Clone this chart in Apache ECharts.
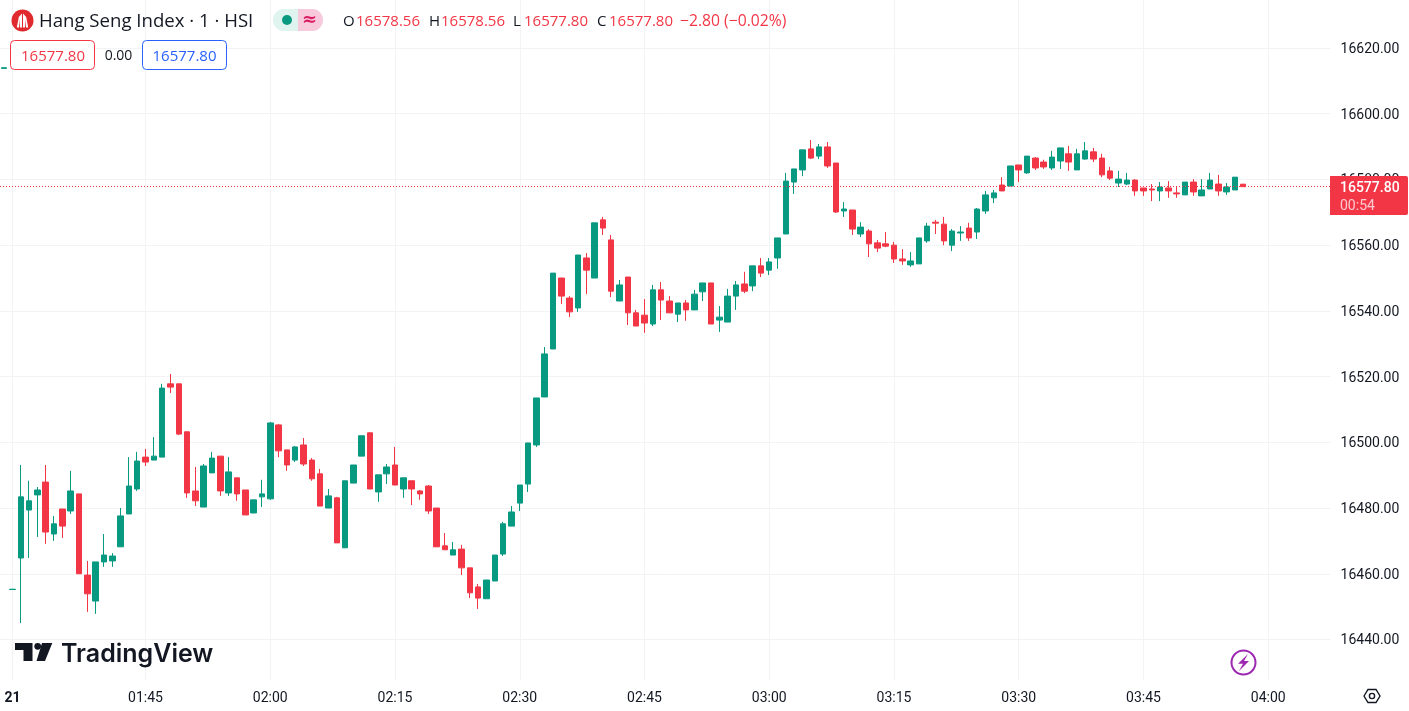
<!DOCTYPE html>
<html>
<head>
<meta charset="utf-8">
<style>html,body{margin:0;padding:0;background:#fff}#c{width:1409px;height:711px}</style>
<script src="https://cdn.jsdelivr.net/npm/echarts@6/dist/echarts.min.js"></script>
</head>
<body>
<div id="c"></div>
<script>
const categories = ["01:28","21",
"01:30","01:31","01:32","01:33","01:34","01:35","01:36","01:37","01:38","01:39","01:40","01:41","01:42","01:43","01:44","01:45","01:46","01:47","01:48","01:49","01:50","01:51","01:52","01:53","01:54","01:55","01:56","01:57","01:58","01:59",
"02:00","02:01","02:02","02:03","02:04","02:05","02:06","02:07","02:08","02:09","02:10","02:11","02:12","02:13","02:14","02:15","02:16","02:17","02:18","02:19","02:20","02:21","02:22","02:23","02:24","02:25","02:26","02:27","02:28","02:29",
"02:30","02:31","02:32","02:33","02:34","02:35","02:36","02:37","02:38","02:39","02:40","02:41","02:42","02:43","02:44","02:45","02:46","02:47","02:48","02:49","02:50","02:51","02:52","02:53","02:54","02:55","02:56","02:57","02:58","02:59",
"03:00","03:01","03:02","03:03","03:04","03:05","03:06","03:07","03:08","03:09","03:10","03:11","03:12","03:13","03:14","03:15","03:16","03:17","03:18","03:19","03:20","03:21","03:22","03:23","03:24","03:25","03:26","03:27","03:28","03:29",
"03:30","03:31","03:32","03:33","03:34","03:35","03:36","03:37","03:38","03:39","03:40","03:41","03:42","03:43","03:44","03:45","03:46","03:47","03:48","03:49","03:50","03:51","03:52","03:53","03:54","03:55","03:56","03:57","03:58","03:59",
"04:00","04:01","04:02","04:03","04:04","04:05","04:06","04:07"];
const timeTicks = ["21","01:45","02:00","02:15","02:30","02:45","03:00","03:15","03:30","03:45","04:00"];
const priceTicks = [16440,16460,16480,16500,16520,16540,16560,16580,16600,16620];
const opens = [16613.8,16455.2,16464.8,16479.4,16484.0,16487.9,16472.1,16479.7,16479.1,16484.3,16459.6,16451.7,16463.6,16463.9,16468.2,16478.2,16485.8,16495.5,16494.6,16495.5,16517.8,16517.8,16503.2,16485.2,16480.3,16490.7,16495.8,16484.6,16489.2,16485.5,16478.5,16483.4,16482.8,16505.3,16497.7,16494.6,16499.2,16494.6,16490.4,16480.0,16483.1,16467.9,16487.6,16495.8,16502.9,16484.9,16490.4,16493.1,16485.8,16488.3,16485.2,16486.7,16480.0,16468.5,16465.7,16467.5,16461.8,16456.0,16452.4,16457.8,16466.0,16474.5,16481.5,16487.3,16499.2,16513.8,16528.4,16550.0,16543.9,16540.9,16556.1,16550.0,16567.7,16561.6,16543.0,16550.3,16539.4,16538.7,16536.0,16546.4,16543.0,16539.0,16542.4,16540.3,16545.8,16548.5,16537.2,16536.6,16544.5,16548.2,16547.6,16553.7,16552.4,16556.1,16563.4,16579.2,16582.9,16589.3,16587.1,16589.9,16585.0,16570.4,16570.7,16563.4,16564.3,16560.7,16560.4,16560.0,16555.8,16554.0,16554.3,16561.3,16567.0,16566.4,16560.0,16563.7,16565.2,16564.0,16570.4,16574.4,16578.3,16578.0,16584.4,16582.0,16586.5,16585.3,16583.5,16585.6,16587.8,16582.9,16586.2,16588.4,16586.5,16582.6,16578.9,16578.6,16579.8,16577.4,16577.1,16576.5,16577.4,16575.9,16575.3,16579.2,16575.0,16577.1,16578.6,16576.2,16576.8,16578.56];
const closes = [16614.0,16455.3,16483.4,16482.2,16485.5,16472.7,16475.2,16474.5,16485.2,16460.0,16453.9,16463.6,16465.7,16465.4,16477.6,16486.7,16494.3,16494.0,16495.8,16516.5,16516.8,16502.5,16484.6,16482.2,16492.8,16495.2,16485.2,16491.0,16484.3,16477.9,16482.5,16484.3,16505.9,16497.4,16493.1,16498.6,16493.4,16488.9,16480.6,16483.7,16469.4,16488.3,16493.1,16502.0,16485.8,16490.1,16492.5,16487.0,16489.2,16485.8,16484.3,16479.1,16468.2,16467.3,16467.3,16461.8,16454.2,16452.6,16458.1,16465.7,16475.2,16478.8,16487.0,16499.8,16513.5,16526.9,16551.5,16544.5,16539.7,16557.0,16552.4,16566.8,16565.2,16546.0,16547.9,16539.4,16535.4,16536.3,16546.4,16543.3,16539.4,16542.4,16540.3,16545.1,16548.5,16536.0,16538.1,16544.5,16547.9,16546.0,16553.7,16551.5,16554.9,16562.2,16579.5,16583.2,16589.0,16586.5,16589.9,16584.1,16570.1,16571.0,16564.9,16565.5,16560.4,16559.1,16559.7,16555.8,16555.2,16555.2,16562.2,16565.8,16566.7,16561.3,16564.3,16564.0,16562.2,16571.0,16575.3,16575.9,16576.5,16584.1,16582.9,16587.1,16583.5,16583.8,16586.8,16589.6,16585.3,16587.8,16588.7,16586.2,16581.4,16580.4,16580.1,16579.8,16576.5,16576.5,16576.8,16577.7,16576.5,16575.6,16579.2,16576.2,16576.8,16579.8,16576.5,16577.7,16580.7,16577.80];
const lows = [16613.8,16455.2,16445.0,16464.8,16471.2,16469.1,16470.0,16470.9,16478.2,16460.0,16448.4,16447.8,16462.1,16462.1,16468.2,16478.2,16485.2,16492.8,16494.6,16495.5,16515.0,16502.2,16483.1,16480.6,16480.3,16490.7,16483.7,16483.7,16482.2,16477.9,16478.5,16480.3,16482.5,16495.5,16491.3,16494.0,16492.8,16488.3,16480.6,16480.0,16469.4,16467.9,16487.6,16495.8,16485.8,16481.9,16487.3,16487.0,16483.1,16480.9,16482.5,16478.2,16468.2,16467.3,16465.7,16459.6,16452.6,16449.3,16452.4,16457.8,16465.4,16474.5,16479.1,16484.9,16498.6,16513.8,16528.4,16542.1,16538.1,16539.7,16545.1,16550.0,16563.1,16544.2,16543.0,16535.7,16535.4,16533.3,16535.4,16537.2,16539.4,16536.6,16537.0,16540.3,16543.0,16536.0,16533.6,16536.6,16540.3,16545.4,16546.0,16550.3,16550.9,16552.8,16563.4,16575.6,16581.0,16586.2,16586.2,16583.5,16569.8,16568.6,16563.1,16562.5,16556.4,16557.9,16559.4,16554.6,16554.0,16553.4,16554.3,16560.7,16563.4,16560.0,16558.2,16561.3,16561.3,16561.9,16569.5,16572.8,16576.5,16578.0,16579.2,16581.7,16582.9,16583.2,16582.9,16583.2,16582.6,16582.9,16586.0,16585.3,16580.7,16579.8,16577.7,16578.3,16575.0,16575.0,16573.4,16573.4,16574.4,16574.4,16575.3,16575.0,16575.0,16577.1,16575.0,16575.3,16576.8,16577.80];
const highs = [16614.0,16455.3,16493.1,16488.3,16486.4,16493.1,16477.6,16479.7,16491.3,16484.3,16463.9,16463.6,16472.1,16466.3,16480.0,16495.5,16497.1,16498.0,16501.6,16517.8,16520.8,16517.8,16503.2,16492.5,16493.4,16497.1,16495.8,16495.5,16489.2,16485.5,16482.5,16488.6,16506.2,16505.6,16497.7,16498.9,16501.3,16495.2,16491.9,16485.8,16483.4,16488.3,16493.1,16502.0,16502.9,16490.1,16493.4,16498.6,16489.2,16488.3,16485.5,16487.0,16480.0,16472.4,16469.7,16468.8,16461.8,16456.9,16458.1,16465.7,16475.8,16480.6,16487.0,16499.8,16513.5,16529.0,16551.5,16550.0,16544.5,16557.0,16557.6,16566.8,16568.6,16563.1,16549.4,16550.3,16540.3,16543.6,16547.9,16548.8,16544.5,16542.4,16543.3,16546.4,16548.5,16548.5,16541.5,16546.7,16549.1,16551.9,16553.7,16556.1,16556.1,16562.2,16582.0,16583.2,16589.0,16592.0,16590.8,16591.4,16585.0,16573.1,16570.7,16567.0,16564.9,16561.6,16564.0,16561.0,16558.8,16557.9,16562.2,16566.8,16567.7,16568.6,16564.9,16565.8,16566.8,16571.3,16576.5,16576.8,16580.7,16584.1,16584.4,16587.1,16586.8,16586.0,16588.7,16589.6,16590.2,16589.3,16591.4,16589.6,16587.8,16583.8,16582.6,16582.0,16580.1,16577.4,16578.6,16579.2,16579.5,16578.0,16579.2,16580.1,16580.1,16582.0,16581.4,16578.9,16580.7,16578.56];
const lastPrice = 16577.80;

const GREEN = '#089981', RED = '#F23645', INK = '#131722', GRID = '#f2f3f5';
const FONT = 'Roboto', HEAD = 'Open Sans';
const candles = opens.map((o, i) => [o, closes[i], lows[i], highs[i]]);

const txt = (x, y, text, fill, size, extra) => ({
  type: 'text', z: 110, x, y,
  style: Object.assign({ text, fill, fontSize: size, fontFamily: HEAD, textVerticalAlign: 'middle', textAlign: 'left' }, extra || {})
});

const graphic = [
  // logo badge
  { type: 'circle', z: 100, shape: { cx: 22.5, cy: 20.5, r: 11 }, style: { fill: '#E12A2E' } },
  { type: 'polygon', z: 101, shape: { points: [[16.8,27.5],[18.8,17],[22,13.5],[22,27.5],[20,27.5],[20,19],[19,27.5]] }, style: { fill: '#fff' } },
  { type: 'polygon', z: 101, shape: { points: [[28.2,27.5],[26.2,17],[23,13.5],[23,27.5],[25,27.5],[25,19],[26,27.5]] }, style: { fill: '#fff' } },
  txt(39, 22, 'Hang Seng Index · 1 · HSI', INK, 18.6),
  // status pill
  { type: 'rect', z: 100, shape: { x: 273, y: 9, width: 50, height: 22, r: 11 }, style: { fill: '#DFF3EF' } },
  { type: 'rect', z: 101, shape: { x: 298, y: 9, width: 25, height: 22, r: [0, 11, 11, 0] }, style: { fill: '#F8C9DB' } },
  { type: 'circle', z: 102, shape: { cx: 287, cy: 20, r: 5 }, style: { fill: GREEN } },
  txt(309.5, 20.5, '≈', '#D81B60', 18, { textAlign: 'center', fontWeight: 'bold', fontFamily: 'DejaVu Sans' }),
  // OHLC
  txt(343, 22, 'O', INK, 15), txt(356, 22, '16578.56', RED, 15),
  txt(429, 22, 'H', INK, 15), txt(441, 22, '16578.56', RED, 15),
  txt(513, 22, 'L', INK, 15), txt(524, 22, '16577.80', RED, 15),
  txt(597, 22, 'C', INK, 15), txt(609, 22, '16577.80', RED, 15),
  txt(680, 22, '−2.80 (−0.02%)', RED, 15.7),
  // bid / ask
  { type: 'rect', z: 100, shape: { x: 10.5, y: 40.5, width: 84, height: 29, r: 4 }, style: { fill: '#fff', stroke: RED, lineWidth: 1 } },
  txt(53, 56.5, '16577.80', RED, 15, { textAlign: 'center' }),
  txt(118.5, 56.5, '0.00', INK, 14, { textAlign: 'center' }),
  { type: 'rect', z: 100, shape: { x: 142.5, y: 40.5, width: 84, height: 29, r: 4 }, style: { fill: '#fff', stroke: '#2962FF', lineWidth: 1 } },
  txt(184.5, 56.5, '16577.80', '#2962FF', 15, { textAlign: 'center' }),
  // last price tag
  { type: 'rect', z: 100, shape: { x: 1330, y: 176, width: 78, height: 39, r: [0, 2, 2, 0] }, style: { fill: RED } },
  txt(1340, 188.5, '16577.80', '#fff', 14, { fontWeight: 500, fontFamily: FONT }),
  txt(1340, 206.5, '00:54', '#FBC9CF', 14, { fontFamily: FONT }),
  // watermark
  { type: 'polygon', z: 100, shape: { points: [[15,643],[32.5,643],[32.5,661],[23.5,661],[23.5,650],[15,650]] }, style: { fill: INK } },
  { type: 'circle', z: 100, shape: { cx: 37.7, cy: 646.3, r: 3.4 }, style: { fill: INK } },
  { type: 'polygon', z: 100, shape: { points: [[42,643],[52.3,643],[45,661],[36.5,661]] }, style: { fill: INK } },
  txt(61, 654, 'TradingView', INK, 25, { fontWeight: 600, fontFamily: 'Inter' }),
  // bolt icon
  { type: 'circle', z: 100, shape: { cx: 1243.5, cy: 662.5, r: 12 }, style: { fill: '#fff', stroke: '#9C27B0', lineWidth: 2 } },
  { type: 'polygon', z: 101, shape: { points: [[1248,654],[1238,663.8],[1243,663.8],[1239,671],[1249,661],[1244,661]] }, style: { fill: '#9C27B0' } },
  // settings hexagon
  { type: 'polygon', z: 100, shape: { points: [[1364,696],[1368,689.5],[1376,689.5],[1380,696],[1376,702.5],[1368,702.5]] }, style: { fill: 'none', stroke: INK, lineWidth: 1.4 } },
  { type: 'circle', z: 100, shape: { cx: 1372, cy: 696, r: 2.6 }, style: { fill: 'none', stroke: INK, lineWidth: 1.4 } }
];

const chart = echarts.init(document.getElementById('c'), null, { renderer: 'canvas' });
chart.setOption({
  animation: false,
  backgroundColor: '#ffffff',
  grid: { left: 0, top: 0, width: 1330.56, height: 680 },
  xAxis: {
    type: 'category', data: categories, boundaryGap: true,
    axisLine: { show: false }, axisTick: { show: false },
    axisLabel: {
      interval: (i, v) => timeTicks.includes(v), margin: 11, fontSize: 14, fontFamily: FONT, color: INK,
      hideOverlap: false,
      formatter: v => v === '21' ? '{b|21}' : v,
      rich: { b: { fontWeight: 'bold', fontSize: 14, fontFamily: FONT, color: INK } }
    },
    splitLine: { show: true, alignWithLabel: true, interval: (i, v) => timeTicks.includes(v), lineStyle: { color: GRID, width: 1 } }
  },
  yAxis: {
    type: 'value', position: 'right', min: 16427.67, max: 16634.61, scale: true,
    axisLine: { show: false },
    axisTick: { show: false, customValues: priceTicks },
    axisLabel: {
      customValues: priceTicks, margin: 10, fontSize: 14, fontFamily: FONT, color: INK,
      formatter: v => '{p|' + v.toFixed(2) + '}',
      rich: { p: { fontSize: 14, fontFamily: FONT, color: INK, padding: [3, 0, 0, 0] } }
    },
    splitLine: { show: true, lineStyle: { color: GRID, width: 1 } }
  },
  series: [{
    type: 'candlestick', data: candles, barWidth: 6, clip: false,
    itemStyle: { color: GREEN, color0: RED, borderColor: GREEN, borderColor0: RED, borderWidth: 1 },
    markLine: {
      silent: true, symbol: 'none', animation: false,
      label: { show: false },
      lineStyle: { color: RED, type: [1, 2], width: 1 },
      data: [{ yAxis: lastPrice }]
    }
  }],
  graphic
});
</script>
</body>
</html>
